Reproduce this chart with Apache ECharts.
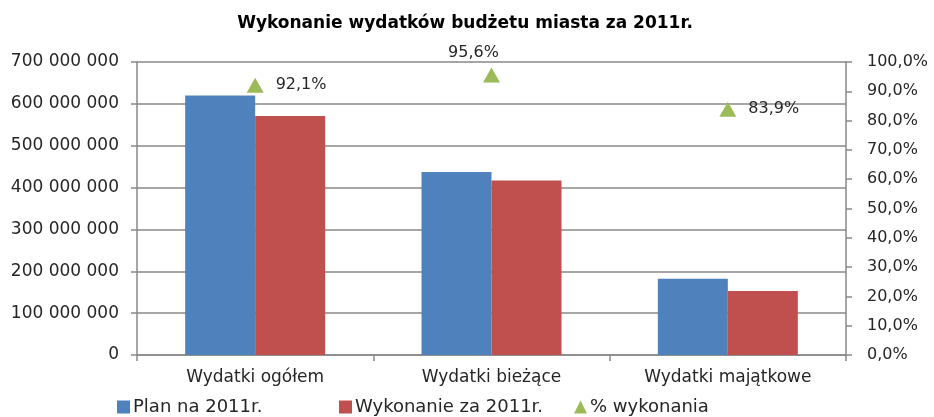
<!DOCTYPE html>
<html>
<head>
<meta charset="utf-8">
<script src="https://cdn.jsdelivr.net/npm/echarts@6/dist/echarts.min.js"></script>
<style>
  html, body { margin: 0; padding: 0; background: #fff; }
  #chart { width: 934px; height: 417px; }
</style>
</head>
<body>
<div id="chart"></div>
<script>
// dane z wykresu
const categories = ['Wydatki ogółem', 'Wydatki bieżące', 'Wydatki majątkowe']
const planValues = [620000000, 437000000, 182000000]
const wykonanieValues = [571000000, 417000000, 153000000]
const procentValues = [92.1, 95.6, 83.9]
const seriesNames = ['Plan na 2011r.', 'Wykonanie za 2011r.', '% wykonania']

const font = 'DejaVu Sans'
const gray = '#898989'
const textColor = '#262626'

function spaced(v) {
  return String(v).replace(/\B(?=(\d{3})+(?!\d))/g, ' ')
}
function pct(v) {
  return v.toFixed(1).replace('.', ',') + '%'
}

const chart = echarts.init(document.getElementById('chart'))

chart.setOption({
  animation: false,
  textStyle: { fontFamily: font, color: textColor },
  title: {
    text: 'Wykonanie wydatków budżetu miasta za 2011r.',
    left: 460,
    textAlign: 'center',
    top: 10,
    textStyle: { fontFamily: font, fontSize: 17, fontWeight: 'bold', color: '#000' }
  },
  legend: [
    { data: [{ name: seriesNames[0], icon: 'rect' }], left: 117, top: 398 },
    { data: [{ name: seriesNames[1], icon: 'rect' }], left: 339, top: 398 },
    { data: [{ name: seriesNames[2], icon: 'triangle' }], left: 574, top: 398 }
  ].map(l => Object.assign(l, {
    itemWidth: 13,
    itemHeight: 13,
    itemGap: 4,
    padding: 0,
    textStyle: { fontFamily: font, fontSize: 18, color: textColor, padding: [0, 0, 0, -2] }
  })),
  grid: { left: 137, right: 88, top: 62, bottom: 62 },
  xAxis: {
    type: 'category',
    data: categories,
    axisLine: { lineStyle: { color: gray, width: 1.5 } },
    axisTick: { show: true, length: 6, lineStyle: { color: gray, width: 1.5 } },
    axisLabel: { fontSize: 17, color: textColor, margin: 14 }
  },
  yAxis: [
    {
      type: 'value',
      min: 0,
      max: 700000000,
      interval: 100000000,
      axisLine: { show: true, lineStyle: { color: gray, width: 1.5 } },
      axisTick: { show: true, length: 6, lineStyle: { color: gray, width: 1.5 } },
      splitLine: { lineStyle: { color: gray, width: 1.5 } },
      axisLabel: { fontSize: 17, color: textColor, margin: 18, align: 'right', formatter: spaced }
    },
    {
      type: 'value',
      position: 'right',
      min: 0,
      max: 100,
      interval: 10,
      axisLine: { show: true, lineStyle: { color: gray, width: 1.5 } },
      axisTick: { show: true, length: 6, lineStyle: { color: gray, width: 1.5 } },
      splitLine: { show: false },
      axisLabel: {
        margin: 21,
        align: 'left',
        formatter: v => '{p|' + pct(v) + '}',
        rich: { p: { width: 64, align: 'left', fontSize: 16, color: textColor, fontFamily: font } }
      }
    }
  ],
  series: [
    {
      name: seriesNames[0],
      type: 'bar',
      data: planValues,
      barWidth: 70,
      barGap: '0%',
      itemStyle: { color: '#4F81BD' }
    },
    {
      name: seriesNames[1],
      type: 'bar',
      data: wykonanieValues,
      barWidth: 70,
      itemStyle: { color: '#C0504D' }
    },
    {
      name: seriesNames[2],
      type: 'line',
      yAxisIndex: 1,
      data: procentValues.map((v, i) => ({
        value: v,
        label: i === 1
          ? { position: 'top', offset: [-18, -2] }
          : { position: 'right', distance: 12 }
      })),
      symbol: 'triangle',
      symbolSize: [17, 15],
      lineStyle: { opacity: 0 },
      itemStyle: { color: '#9BBB59' },
      label: {
        show: true,
        fontSize: 16,
        color: textColor,
        formatter: p => pct(p.value)
      },
      z: 5
    }
  ]
})
</script>
</body>
</html>
